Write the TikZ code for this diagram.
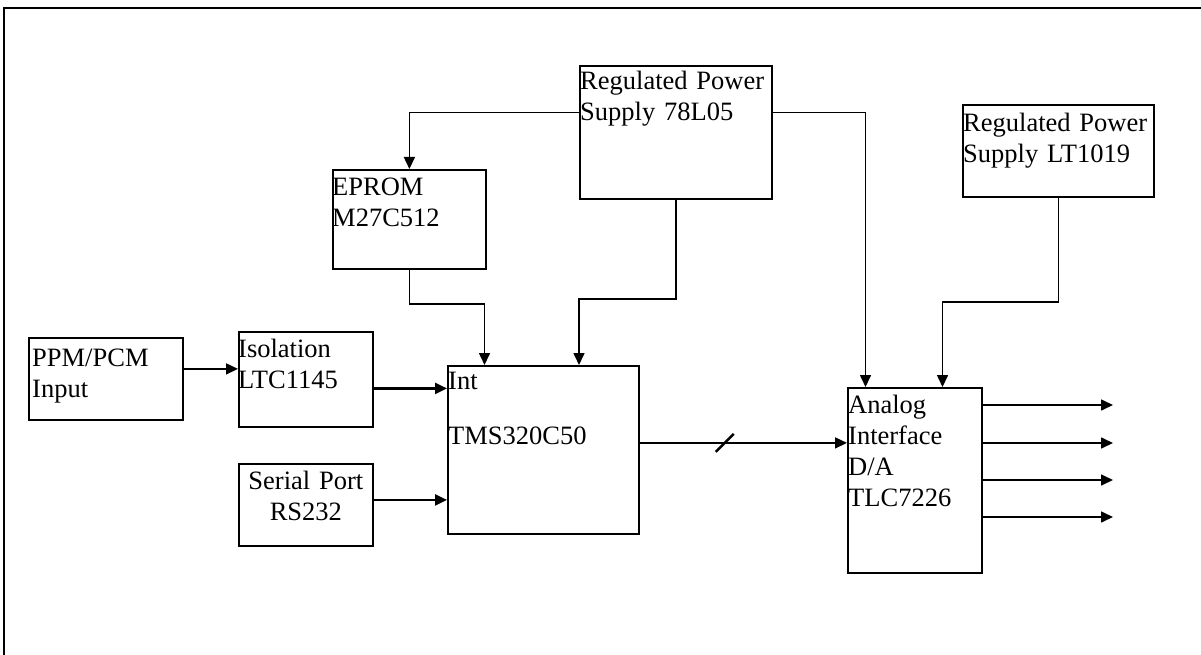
\documentclass[tikz,border=0pt]{standalone}
\usepackage{fontspec}
\setmainfont{Liberation Serif}
\usetikzlibrary{arrows.meta}

\tikzset{
  blk/.style={draw, line width=1.8pt, inner sep=0pt, anchor=north west},
  txt/.style={inner sep=0pt, anchor=base west, text width=200pt, align=left,
    font=\fontsize{26.5}{31}\selectfont},
  arr/.style={line width=1.6pt, -{Triangle[length=12pt,width=11pt]}},
  bus/.style={arr, line width=2.4pt},
}

\begin{document}
\begin{tikzpicture}[x=1pt,y=-1pt]
  \useasboundingbox (0,0) rectangle (1201,655);
  % frame
  \draw[line width=2.5pt] (4,655) -- (4,8) -- (1201,8);

  % blocks
  \node[blk, minimum width=154pt, minimum height=82pt]  (ppm)   at (28,337)  {};
  \node[blk, minimum width=134pt, minimum height=95pt]  (iso)   at (238,331) {};
  \node[blk, minimum width=134pt, minimum height=82pt]  (ser)   at (238,463) {};
  \node[blk, minimum width=191pt, minimum height=168pt] (tms)   at (447,365) {};
  \node[blk, minimum width=153pt, minimum height=99pt]  (eprom) at (332,169) {};
  \node[blk, minimum width=192pt, minimum height=133pt] (p78)   at (579,65)  {};
  \node[blk, minimum width=191pt, minimum height=92pt]  (lt)    at (962,104) {};
  \node[blk, minimum width=134pt, minimum height=185pt] (ana)   at (847,387) {};

  % texts
  \node[txt] (ppm-t)   at ([shift={(4,29)}]ppm.north west)   {PPM/PCM\\Input};
  \node[txt] (iso-t)   at ([shift={(0,26)}]iso.north west)   {Isolation\\LTC1145};
  \node[txt, anchor=base, align=center] (ser-t) at ([yshift=-26pt]ser.north) {Serial Port\\RS232};
  \node[txt] (tms-t)   at ([shift={(1,24)}]tms.north west)   {Int\\[24pt]TMS320C50};
  \node[txt] (eprom-t) at ([shift={(0,27)}]eprom.north west) {EPROM\\M27C512};
  \node[txt] (p78-t)   at ([shift={(1,25)}]p78.north west)   {Regulated Power\\Supply 78L05};
  \node[txt] (lt-t)    at ([shift={(1,28)}]lt.north west)    {Regulated Power\\Supply LT1019};
  \node[txt] (ana-t)   at ([shift={(1,26)}]ana.north west)   {Analog\\Interface\\D/A\\TLC7226};

  % connections
  \draw[arr] ([yshift=10pt]ppm.east) -- ([yshift=10pt]ppm.east -| iso.west);
  \draw[bus] ([yshift=-9pt]iso.east) -- ([yshift=-9pt]iso.east -| tms.west);
  \draw[bus] ([yshift=5pt]ser.east) -- ([yshift=5pt]ser.east -| tms.west);
  \draw[arr] ([yshift=7pt]tms.east) -- coordinate[pos=.41] (cut) ([yshift=7pt]tms.east -| ana.west);
  \draw[line width=2.4pt] ([shift={(-9,9)}]cut) -- ([shift={(9,-9)}]cut);

  \draw[arr] ([yshift=20pt]p78.west) -| (eprom.north);
  \draw[arr] ([yshift=20pt]p78.east) -| ([xshift=18.5pt]ana.north west);
  \draw[arr] (p78.south) -- ++(0,99) -| ([xshift=132pt]tms.north west);
  \draw[arr] (eprom.south) -- ++(0,34) -| ([xshift=37.5pt]tms.north west);
  \draw[arr] (lt.south) -- ++(0,104) -| ([xshift=95.5pt]ana.north west);

  % outputs
  \foreach \i/\y in {1/405,2/443,3/480,4/517} {
    \coordinate (out\i) at (1113,\y);
    \draw[arr] (ana.east |- out\i) -- (out\i);
  }
\end{tikzpicture}
\end{document}
